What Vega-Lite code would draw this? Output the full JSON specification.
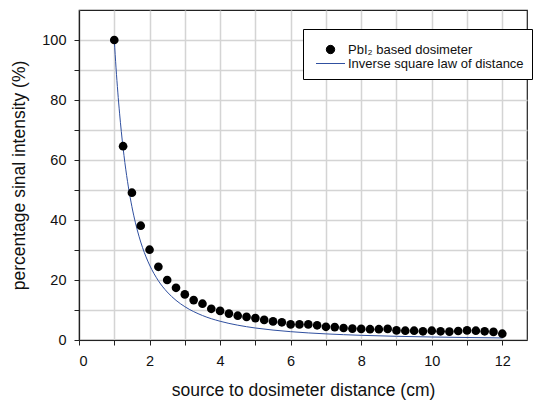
{
  "$schema": "https://vega.github.io/schema/vega-lite/v6.json",
  "width": 448,
  "height": 330,
  "autosize": {"type": "none"},
  "padding": {"left": 79, "top": 10, "right": 7, "bottom": 62},
  "background": "white",
  "config": {
    "font": "Liberation Sans",
    "view": {"stroke": "#222", "strokeWidth": 1.2},
    "axis": {
      "labelFont": "Liberation Sans",
      "titleFont": "Liberation Sans",
      "labelFontSize": 14.5,
      "titleFontSize": 17.5,
      "titleFontWeight": "normal",
      "labelColor": "#111",
      "titleColor": "#111",
      "gridColor": "#d4d4d4",
      "gridWidth": 1.5,
      "tickColor": "#222",
      "domainColor": "#222",
      "domainWidth": 1.2
    }
  },
  "datasets": {
    "meas": [
      {"d": 1.0, "v": 100, "series": "PbI₂ based dosimeter"},
      {"d": 1.25, "v": 64.6, "series": "PbI₂ based dosimeter"},
      {"d": 1.5, "v": 49.1, "series": "PbI₂ based dosimeter"},
      {"d": 1.75, "v": 38.1, "series": "PbI₂ based dosimeter"},
      {"d": 2.0, "v": 30.1, "series": "PbI₂ based dosimeter"},
      {"d": 2.25, "v": 24.4, "series": "PbI₂ based dosimeter"},
      {"d": 2.5, "v": 20.0, "series": "PbI₂ based dosimeter"},
      {"d": 2.75, "v": 17.4, "series": "PbI₂ based dosimeter"},
      {"d": 3.0, "v": 15.2, "series": "PbI₂ based dosimeter"},
      {"d": 3.25, "v": 13.3, "series": "PbI₂ based dosimeter"},
      {"d": 3.5, "v": 12.1, "series": "PbI₂ based dosimeter"},
      {"d": 3.75, "v": 10.4, "series": "PbI₂ based dosimeter"},
      {"d": 4.0, "v": 9.7, "series": "PbI₂ based dosimeter"},
      {"d": 4.25, "v": 8.8, "series": "PbI₂ based dosimeter"},
      {"d": 4.5, "v": 8.1, "series": "PbI₂ based dosimeter"},
      {"d": 4.75, "v": 7.7, "series": "PbI₂ based dosimeter"},
      {"d": 5.0, "v": 7.3, "series": "PbI₂ based dosimeter"},
      {"d": 5.25, "v": 6.7, "series": "PbI₂ based dosimeter"},
      {"d": 5.5, "v": 6.2, "series": "PbI₂ based dosimeter"},
      {"d": 5.75, "v": 5.9, "series": "PbI₂ based dosimeter"},
      {"d": 6.0, "v": 5.2, "series": "PbI₂ based dosimeter"},
      {"d": 6.25, "v": 5.2, "series": "PbI₂ based dosimeter"},
      {"d": 6.5, "v": 5.2, "series": "PbI₂ based dosimeter"},
      {"d": 6.75, "v": 4.9, "series": "PbI₂ based dosimeter"},
      {"d": 7.0, "v": 4.4, "series": "PbI₂ based dosimeter"},
      {"d": 7.25, "v": 4.3, "series": "PbI₂ based dosimeter"},
      {"d": 7.5, "v": 4.0, "series": "PbI₂ based dosimeter"},
      {"d": 7.75, "v": 3.8, "series": "PbI₂ based dosimeter"},
      {"d": 8.0, "v": 3.7, "series": "PbI₂ based dosimeter"},
      {"d": 8.25, "v": 3.6, "series": "PbI₂ based dosimeter"},
      {"d": 8.5, "v": 3.6, "series": "PbI₂ based dosimeter"},
      {"d": 8.75, "v": 3.7, "series": "PbI₂ based dosimeter"},
      {"d": 9.0, "v": 3.2, "series": "PbI₂ based dosimeter"},
      {"d": 9.25, "v": 3.1, "series": "PbI₂ based dosimeter"},
      {"d": 9.5, "v": 3.1, "series": "PbI₂ based dosimeter"},
      {"d": 9.75, "v": 2.9, "series": "PbI₂ based dosimeter"},
      {"d": 10.0, "v": 3.1, "series": "PbI₂ based dosimeter"},
      {"d": 10.25, "v": 2.9, "series": "PbI₂ based dosimeter"},
      {"d": 10.5, "v": 2.8, "series": "PbI₂ based dosimeter"},
      {"d": 10.75, "v": 3.0, "series": "PbI₂ based dosimeter"},
      {"d": 11.0, "v": 3.2, "series": "PbI₂ based dosimeter"},
      {"d": 11.25, "v": 3.1, "series": "PbI₂ based dosimeter"},
      {"d": 11.5, "v": 2.9, "series": "PbI₂ based dosimeter"},
      {"d": 11.75, "v": 2.7, "series": "PbI₂ based dosimeter"},
      {"d": 12.0, "v": 2.1, "series": "PbI₂ based dosimeter"}
    ],
    "law": [
      {"d": 1.0, "v": 100, "series": "Inverse square law of distance"},
      {"d": 1.05, "v": 90.7, "series": "Inverse square law of distance"},
      {"d": 1.1, "v": 82.64, "series": "Inverse square law of distance"},
      {"d": 1.15, "v": 75.61, "series": "Inverse square law of distance"},
      {"d": 1.2, "v": 69.44, "series": "Inverse square law of distance"},
      {"d": 1.3, "v": 59.17, "series": "Inverse square law of distance"},
      {"d": 1.4, "v": 51.02, "series": "Inverse square law of distance"},
      {"d": 1.5, "v": 44.44, "series": "Inverse square law of distance"},
      {"d": 1.6, "v": 39.06, "series": "Inverse square law of distance"},
      {"d": 1.7, "v": 34.6, "series": "Inverse square law of distance"},
      {"d": 1.8, "v": 30.86, "series": "Inverse square law of distance"},
      {"d": 1.9, "v": 27.7, "series": "Inverse square law of distance"},
      {"d": 2.0, "v": 25, "series": "Inverse square law of distance"},
      {"d": 2.25, "v": 19.75, "series": "Inverse square law of distance"},
      {"d": 2.5, "v": 16, "series": "Inverse square law of distance"},
      {"d": 2.75, "v": 13.22, "series": "Inverse square law of distance"},
      {"d": 3.0, "v": 11.11, "series": "Inverse square law of distance"},
      {"d": 3.5, "v": 8.16, "series": "Inverse square law of distance"},
      {"d": 4.0, "v": 6.25, "series": "Inverse square law of distance"},
      {"d": 4.5, "v": 4.94, "series": "Inverse square law of distance"},
      {"d": 5.0, "v": 4.0, "series": "Inverse square law of distance"},
      {"d": 6.0, "v": 2.78, "series": "Inverse square law of distance"},
      {"d": 7.0, "v": 2.04, "series": "Inverse square law of distance"},
      {"d": 8.0, "v": 1.56, "series": "Inverse square law of distance"},
      {"d": 9.0, "v": 1.23, "series": "Inverse square law of distance"},
      {"d": 10.0, "v": 1.0, "series": "Inverse square law of distance"},
      {"d": 11.0, "v": 0.83, "series": "Inverse square law of distance"},
      {"d": 12.0, "v": 0.69, "series": "Inverse square law of distance"}
    ]
  },
  "encoding": {
    "x": {
      "field": "d", "type": "quantitative",
      "scale": {"domain": [0, 12.7], "nice": false, "zero": false},
      "axis": {
        "title": "source to dosimeter distance (cm)",
        "values": [0,1,2,3,4,5,6,7,8,9,10,11,12],
        "labelExpr": "datum.value % 2 === 0 ? datum.label : ''",
        "tickSize": 5, "labelPadding": 9, "titlePadding": 14
      }
    },
    "y": {
      "field": "v", "type": "quantitative",
      "scale": {"domain": [0, 110], "nice": false},
      "axis": {
        "title": "percentage sinal intensity (%)",
        "values": [0,10,20,30,40,50,60,70,80,90,100],
        "labelExpr": "datum.value % 20 === 0 ? datum.label : ''",
        "tickSize": 5, "labelPadding": 8, "titlePadding": 13
      }
    },
    "color": {
      "field": "series", "type": "nominal",
      "scale": {"domain": ["PbI₂ based dosimeter", "Inverse square law of distance"], "range": ["black", "#3050a0"]},
      "legend": {
        "title": " ",
        "titleFontSize": 1,
        "titlePadding": 5,
        "orient": "none",
        "legendX": 224,
        "legendY": 19,
        "padding": 8,
        "strokeColor": "black",
        "fillColor": "white",
        "labelFont": "Liberation Sans",
        "labelFontSize": 13,
        "labelColor": "#111",
        "labelLimit": 300,
        "labelOffset": 11,
        "symbolOffset": 13,
        "symbolSize": 784,
        "rowPadding": -7,
        "encode": {
          "symbols": {
            "update": {
              "shape": {"signal": "datum.value === 'Inverse square law of distance' ? 'stroke' : 'circle'"},
              "size": {"signal": "datum.value === 'Inverse square law of distance' ? 841 : 70"},
              "fill": {"signal": "datum.value === 'Inverse square law of distance' ? 'transparent' : 'black'"},
              "stroke": {"signal": "datum.value === 'Inverse square law of distance' ? '#3050a0' : 'black'"},
              "strokeWidth": {"value": 1},
              "opacity": {"value": 1}
            }
          }
        }
      }
    }
  },
  "layer": [
    {
      "data": {"name": "law"},
      "mark": {"type": "line", "interpolate": "monotone", "strokeWidth": 1, "clip": true}
    },
    {
      "data": {"name": "meas"},
      "mark": {"type": "point", "filled": true, "size": 75, "opacity": 1}
    }
  ]
}
